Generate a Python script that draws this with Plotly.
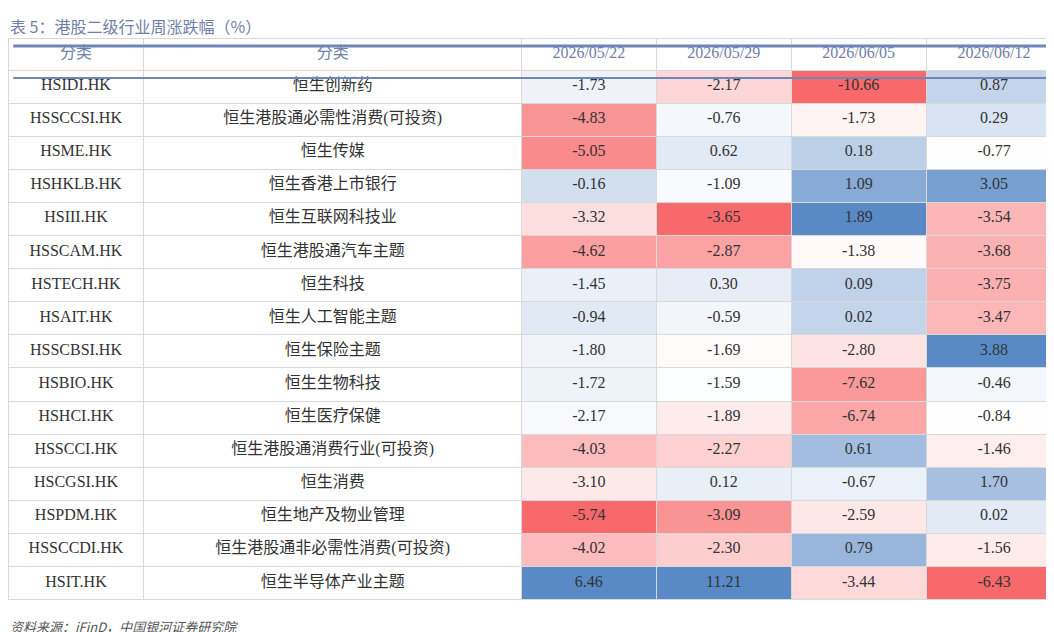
import plotly.graph_objects as go
import numpy as np

codes = ["HSIDI.HK","HSSCCSI.HK","HSME.HK","HSHKLB.HK","HSIII.HK","HSSCAM.HK","HSTECH.HK","HSAIT.HK",
         "HSSCBSI.HK","HSBIO.HK","HSHCI.HK","HSSCCI.HK","HSCGSI.HK","HSPDM.HK","HSSCCDI.HK","HSIT.HK"]
names = ["恒生创新药","恒生港股通必需性消费(可投资)","恒生传媒","恒生香港上市银行","恒生互联网科技业","恒生港股通汽车主题",
         "恒生科技","恒生人工智能主题","恒生保险主题","恒生生物科技","恒生医疗保健","恒生港股通消费行业(可投资)",
         "恒生消费","恒生地产及物业管理","恒生港股通非必需性消费(可投资)","恒生半导体产业主题"]
dates = ["2026/05/22","2026/05/29","2026/06/05","2026/06/12"]
w1 = [-1.73,-4.83,-5.05,-0.16,-3.32,-4.62,-1.45,-0.94,-1.80,-1.72,-2.17,-4.03,-3.10,-5.74,-4.02,6.46]
w2 = [-2.17,-0.76,0.62,-1.09,-3.65,-2.87,0.30,-0.59,-1.69,-1.59,-1.89,-2.27,0.12,-3.09,-2.30,11.21]
w3 = [-10.66,-1.73,0.18,1.09,1.89,-1.38,0.09,0.02,-2.80,-7.62,-6.74,0.61,-0.67,-2.59,0.79,-3.44]
w4 = [0.87,0.29,-0.77,3.05,-3.54,-3.68,-3.75,-3.47,3.88,-0.46,-0.84,-1.46,1.70,0.02,-1.56,-6.43]

RED = np.array([248,105,107]); WHITE = np.array([255,255,255]); BLUE = np.array([90,138,198])
def colors(vals):
    v = np.array(vals); lo, mid, hi = v.min(), np.median(v), v.max()
    out = []
    for x in v:
        if x <= mid:
            t = (mid - x) / (mid - lo); c = WHITE + (RED - WHITE) * t
        else:
            t = (x - mid) / (hi - mid); c = WHITE + (BLUE - WHITE) * t
        out.append("rgb(%d,%d,%d)" % tuple(c.round()))
    return out

cols = [w1, w2, w3, w4]
fills = [["white"]*16, ["white"]*16] + [colors(c) for c in cols]
values = [codes, names] + [[f"{x:.2f}" for x in c] for c in cols]

font = "Liberation Serif, Noto Sans CJK SC"
fig = go.Figure(go.Table(
    columnwidth=[135,375,134,134,134,135],
    header=dict(values=["分类","分类"]+dates, fill_color="white", height=32,
                line=dict(color="#d9d9d9", width=1),
                font=dict(family=font, size=16, color="#7080a8"), align="center"),
    cells=dict(values=values, fill_color=fills, height=33.1,
               line=dict(color="#d9d9d9", width=1),
               font=dict(family=font, size=16, color="#333333"), align="center"),
))
T, B = 30, 24
H = 632 - T - B
fig.update_layout(
    width=1054, height=632, margin=dict(l=0, r=0, t=T, b=B), paper_bgcolor="white",
    shapes=[dict(type="line", xref="paper", yref="paper", x0=0.005, x1=0.999, y0=1-8/H, y1=1-8/H,
                 line=dict(color="#6f86b8", width=3)),
            dict(type="line", xref="paper", yref="paper", x0=0.005, x1=0.999, y0=1-40/H, y1=1-40/H,
                 line=dict(color="#6f86b8", width=2))],
    annotations=[dict(text="表 5：港股二级行业周涨跌幅（%）", xref="paper", yref="paper", x=0, y=1,
                      yshift=12, xanchor="left", yanchor="middle", showarrow=False,
                      font=dict(family="Noto Sans CJK SC", size=16, color="#7080a8")),
                 dict(text="<i>资料来源：iFinD，中国银河证券研究院</i>", xref="paper", yref="paper", x=0, y=0,
                      yshift=-10, xanchor="left", yanchor="middle", showarrow=False,
                      font=dict(family="Noto Sans CJK SC", size=13, color="#555555"))],
)
fig.write_html("out.html")
